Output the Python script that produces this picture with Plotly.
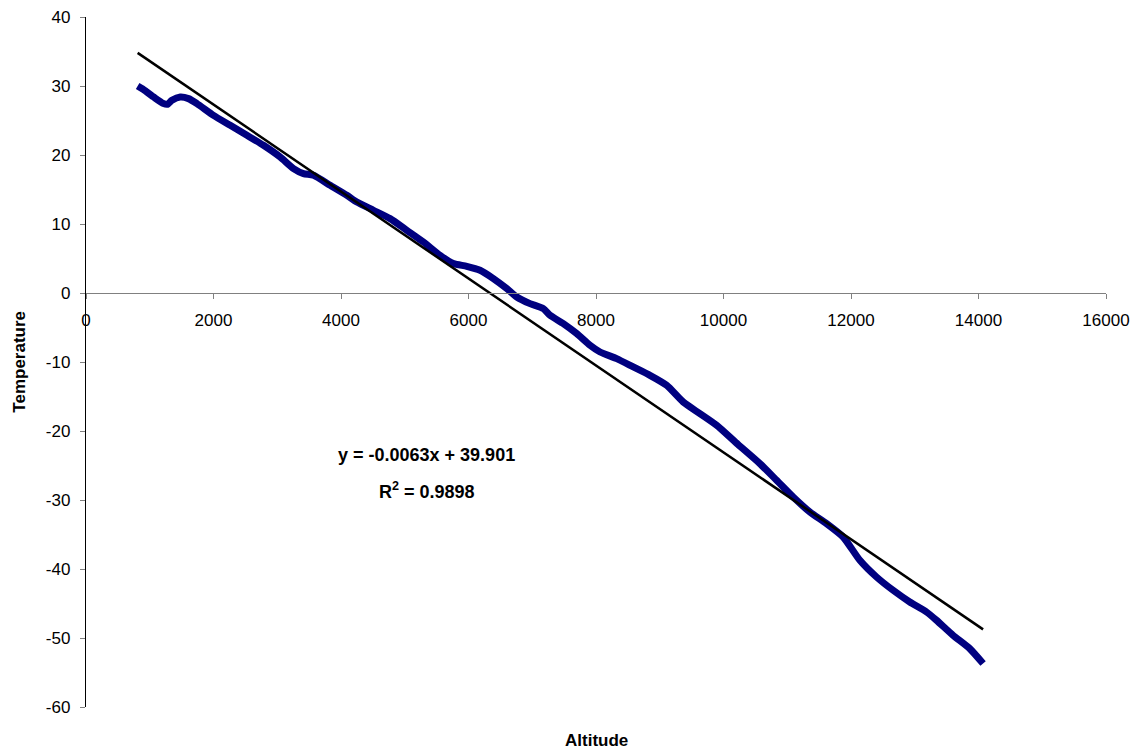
import plotly.graph_objects as go

# Measured data (Altitude vs Temperature)
altitude = [810, 903, 1060, 1216, 1279, 1348, 1478, 1608, 1740, 2000, 2262, 2524, 2784,
            3046, 3255, 3411, 3568, 3830, 4092, 4248, 4509, 4770, 5032, 5293, 5554,
            5763, 5973, 6181, 6390, 6600, 6757, 6965, 7174, 7279, 7487, 7697, 7906,
            8063, 8324, 8585, 8846, 9108, 9368, 9630, 9892, 10226, 10571, 10833, 11093,
            11355, 11617, 11877, 12139, 12400, 12661, 12922, 13184, 13341, 13601, 13863, 14072]
temperature = [30.0, 29.48, 28.41, 27.45, 27.35, 27.93, 28.41, 28.17, 27.45, 25.75, 24.30,
               22.86, 21.41, 19.71, 18.03, 17.30, 17.06, 15.61, 14.16, 13.19, 11.99, 10.78,
               9.09, 7.39, 5.46, 4.26, 3.87, 3.29, 2.09, 0.64, -0.58, -1.54, -2.26, -3.23,
               -4.43, -5.88, -7.58, -8.55, -9.51, -10.72, -11.93, -13.38, -15.80, -17.48,
               -19.17, -21.93, -24.72, -27.14, -29.57, -31.74, -33.42, -35.36, -38.74,
               -41.16, -43.09, -44.78, -46.23, -47.43, -49.61, -51.54, -53.71]

# Linear trendline as shown on the chart
slope = -0.0063
intercept = 39.901
r_squared = 0.9898
trend_x = [min(altitude), max(altitude)]
trend_y = [slope * v + intercept for v in trend_x]

x_ticks = [0, 2000, 4000, 6000, 8000, 10000, 12000, 14000, 16000]
y_ticks = [-60, -50, -40, -30, -20, -10, 0, 10, 20, 30, 40]

FONT = "Liberation Sans, Arial, sans-serif"

fig = go.Figure()
fig.add_trace(go.Scatter(x=altitude, y=temperature, mode="lines",
                         line=dict(color="#000080", width=7, shape="spline", smoothing=0.6),
                         showlegend=False, hoverinfo="skip"))
fig.add_trace(go.Scatter(x=trend_x, y=trend_y, mode="lines",
                         line=dict(color="#000000", width=2.5),
                         showlegend=False, hoverinfo="skip"))

fig.update_layout(
    width=1136, height=747,
    margin=dict(l=78, r=38, t=9, b=48, autoexpand=False),
    paper_bgcolor="white", plot_bgcolor="white",
    font=dict(family=FONT, size=17, color="#000000"),
    xaxis=dict(range=[0, 16000], tickvals=x_ticks, ticktext=[str(v) for v in x_ticks],
               showgrid=False, zeroline=False, showline=True, linecolor="#808080",
               linewidth=1.3, ticks="outside", ticklen=5, tickcolor="#808080",
               anchor="free", position=0.6, ticklabelstandoff=6, automargin=False,
               ticklabeloverflow="allow",
               tickfont=dict(family=FONT, size=17, color="#000000")),
    yaxis=dict(range=[-60, 40], tickvals=y_ticks, ticktext=[str(v) for v in y_ticks],
               showgrid=False, zeroline=False, showline=True, linecolor="#000000",
               linewidth=1.3, ticks="outside", ticklen=5, tickcolor="#808080",
               ticklabelstandoff=6, automargin=False, ticklabeloverflow="allow",
               tickfont=dict(family=FONT, size=17, color="#000000")),
    annotations=[
        dict(text="<b>Temperature</b>", xref="paper", yref="paper", x=-0.066, y=0.5,
             textangle=-90, showarrow=False, xanchor="center", yanchor="middle",
             font=dict(family=FONT, size=17)),
        dict(text="<b>Altitude</b>", xref="paper", yref="paper", x=0.5, y=-0.049,
             showarrow=False, xanchor="center", yanchor="middle",
             font=dict(family=FONT, size=17)),
        dict(text="<b>y = %.4fx + %.3f</b>" % (slope, intercept), xref="x", yref="y",
             x=5335, y=-23.5, showarrow=False, xanchor="center", yanchor="middle",
             font=dict(family=FONT, size=18)),
        dict(text="<b>R<sup>2</sup> = %.4f</b>" % r_squared, xref="x", yref="y",
             x=5350, y=-28.6, showarrow=False, xanchor="center", yanchor="middle",
             font=dict(family=FONT, size=18)),
    ],
)

fig.write_html("out.html")
